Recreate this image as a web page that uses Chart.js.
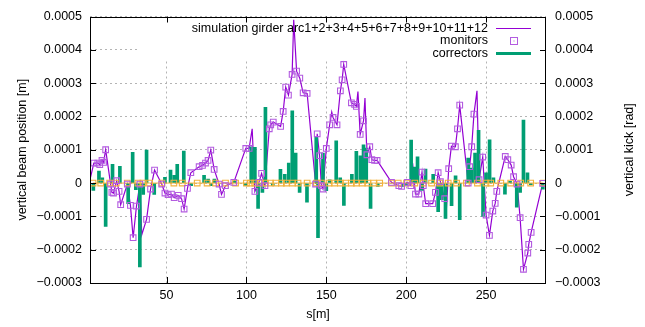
<!DOCTYPE html>
<html><head><meta charset="utf-8">
<script src="https://cdn.jsdelivr.net/npm/chart.js@4/dist/chart.umd.min.js"></script>
<style>html,body{margin:0;padding:0;background:#fff;overflow:hidden}#wrap{width:645px;height:327px}</style>
</head><body><div id="wrap"><canvas id="c" width="645" height="327"></canvas></div>
<script>
// ---- data (s in m, positions in m, kicks in rad) ----
const simS = [2.1,4.5,7.0,8.2,9.6,10.6,11.9,15.0,15.8,16.8,18.8,20.3,21.3,25.5,27.4,29.1,31.2,33.3,34.5,37.5,40.0,42.5,47.0,49.0,51.0,53.1,54.8,57.3,59.4,61.0,63.1,65.2,70.4,72.5,74.4,76.0,77.7,79.8,82.9,84.4,86.9,92.1,99.6,101.7,103.6,105.3,107.8,109.5,111.6,114.3,115.2,116.8,121.4,123.0,124.6,126.3,128.6,129.6,131.4,133.4,135.5,138.0,143.3,144.3,145.8,146.9,147.9,150.0,152.1,153.4,154.2,156.7,158.8,159.9,160.9,165.7,167.7,168.8,169.8,171.2,173.3,174.2,175.4,177.2,178.5,180.2,181.8,190.8,195.4,197.1,200.8,202.9,204.3,205.8,207.9,209.9,210.7,212.2,216.6,218.3,220.0,221.4,224.1,224.8,226.6,228.3,230.8,232.1,233.5,238.8,239.7,241.0,242.4,244.3,245.6,247.9,250.0,252.1,254.2,255.7,256.7,262.0,263.6,265.7,267.2,269.4,271.3,273.4,276.1,276.7,278.2,285.4];
const simY = [0.1e-4,0.6e-4,0.6e-4,0.55e-4,0.68e-4,0.62e-4,1.0e-4,-0.03e-4,-0.28e-4,-0.3e-4,0.07e-4,-0.25e-4,-0.65e-4,-0.03e-4,-0.67e-4,-1.64e-4,-0.69e-4,-0.03e-4,-1.55e-4,-1.09e-4,-0.18e-4,0.39e-4,-0.03e-4,-0.3e-4,-0.35e-4,-0.33e-4,-0.44e-4,-0.37e-4,-0.47e-4,-0.78e-4,-0.16e-4,0.31e-4,0.49e-4,0.53e-4,0.6e-4,0.68e-4,0.99e-4,0.41e-4,-0.03e-4,-0.34e-4,-0.08e-4,0.02e-4,1.04e-4,1.04e-4,1.63e-4,-0.25e-4,0.02e-4,0.29e-4,-0.08e-4,1.63e-4,1.75e-4,1.83e-4,1.7e-4,2.15e-4,2.88e-4,2.64e-4,3.26e-4,4.9e-4,3.36e-4,3.15e-4,2.71e-4,2.69e-4,-0.03e-4,1.48e-4,0.82e-4,-0.08e-4,-0.18e-4,1.04e-4,1.75e-4,2.13e-4,1.97e-4,1.75e-4,2.77e-4,3.1e-4,3.56e-4,2.41e-4,2.36e-4,2.3e-4,2.75e-4,1.46e-4,1.87e-4,2.55e-4,0.85e-4,1.09e-4,0.7e-4,0.68e-4,0.68e-4,0.02e-4,-0.08e-4,-0.1e-4,0.02e-4,-0.08e-4,0.45e-4,-0.33e-4,-0.33e-4,0.33e-4,-0.08e-4,-0.62e-4,-0.62e-4,-0.28e-4,0.31e-4,0.04e-4,-0.47e-4,-1.06e-4,0.43e-4,1.11e-4,1.09e-4,1.63e-4,2.34e-4,0.0,0.49e-4,1.09e-4,2.07e-4,2.77e-4,0.1e-4,0.78e-4,-0.96e-4,-1.57e-4,-0.84e-4,-0.61e-4,-0.25e-4,0.8e-4,0.7e-4,0.54e-4,0.19e-4,-0.03e-4,-1.04e-4,-2.59e-4,-2.1e-4,-1.84e-4,-1.48e-4,-0.01e-4];

const monS = [4.5,7.0,8.2,9.6,10.6,11.9,15.0,15.8,16.8,18.8,20.3,21.3,25.5,27.4,29.1,31.2,33.3,37.5,40.0,42.5,47.0,49.0,51.0,53.1,54.8,57.3,59.4,61.0,63.1,65.2,70.4,72.5,74.4,76.0,77.7,79.8,82.9,84.4,86.9,92.1,99.6,101.7,105.3,107.8,109.5,111.6,114.3,115.2,116.8,121.4,123.0,124.6,126.3,128.6,131.4,133.4,135.5,138.0,143.3,144.3,145.8,146.9,147.9,150.0,152.1,154.2,156.7,158.8,159.9,160.9,165.7,167.7,168.8,171.2,173.3,175.4,177.2,178.5,180.2,181.8,190.8,195.4,197.1,200.8,202.9,205.8,207.9,209.9,210.7,212.2,216.6,218.3,220.0,221.4,224.1,226.6,228.3,230.8,232.1,233.5,238.8,239.7,241.0,242.4,245.6,247.9,250.0,252.1,254.2,255.7,256.7,262.0,263.6,265.7,267.2,269.4,271.3,273.4,276.1,276.7,278.2,285.4];
const monY = [0.6e-4,0.6e-4,0.55e-4,0.68e-4,0.62e-4,1.0e-4,-0.03e-4,-0.28e-4,-0.3e-4,0.07e-4,-0.25e-4,-0.65e-4,-0.03e-4,-0.67e-4,-1.64e-4,-0.69e-4,-0.03e-4,-1.09e-4,-0.18e-4,0.39e-4,-0.03e-4,-0.3e-4,-0.35e-4,-0.33e-4,-0.44e-4,-0.37e-4,-0.47e-4,-0.78e-4,-0.16e-4,0.31e-4,0.49e-4,0.53e-4,0.6e-4,0.68e-4,0.99e-4,0.41e-4,-0.03e-4,-0.34e-4,-0.08e-4,0.02e-4,1.04e-4,1.04e-4,-0.25e-4,0.02e-4,0.29e-4,-0.08e-4,1.63e-4,1.75e-4,1.83e-4,1.7e-4,2.15e-4,2.88e-4,2.64e-4,3.26e-4,3.36e-4,3.15e-4,2.71e-4,2.69e-4,-0.03e-4,1.48e-4,0.82e-4,-0.08e-4,-0.18e-4,1.04e-4,1.75e-4,1.97e-4,1.75e-4,2.77e-4,3.1e-4,3.56e-4,2.41e-4,2.36e-4,2.3e-4,1.46e-4,1.87e-4,0.85e-4,1.09e-4,0.7e-4,0.68e-4,0.68e-4,0.02e-4,-0.08e-4,-0.1e-4,0.02e-4,-0.08e-4,-0.33e-4,-0.33e-4,0.33e-4,-0.08e-4,-0.62e-4,-0.62e-4,-0.28e-4,0.31e-4,0.04e-4,-0.47e-4,0.43e-4,1.11e-4,1.09e-4,1.63e-4,2.34e-4,0.0,0.49e-4,1.09e-4,2.07e-4,0.1e-4,0.78e-4,-0.96e-4,-1.57e-4,-0.84e-4,-0.61e-4,-0.25e-4,0.8e-4,0.7e-4,0.54e-4,0.19e-4,-0.03e-4,-1.04e-4,-2.59e-4,-2.1e-4,-1.84e-4,-1.48e-4,-0.01e-4];

const corS = [4.2,7.7,9.8,11.9,16.2,20.8,26.0,28.8,30.8,33.3,35.4,37.5,42.3,49.0,52.5,54.8,56.7,60.8,65.4,73.5,76.0,77.9,80.0,92.5,99.4,103.0,105.3,107.3,110.0,111.9,116.5,121.3,124.0,126.5,128.7,130.8,133.3,137.9,143.7,144.8,147.9,150.0,152.1,156.2,158.7,161.0,166.0,168.8,171.3,173.3,175.0,177.7,182.2,198.0,200.0,203.1,205.1,207.1,209.7,212.1,216.9,220.0,222.3,224.6,228.4,230.9,233.5,238.8,241.0,243.1,245.3,248.1,250.0,252.2,254.6,261.8,265.0,269.2,271.3,273.4,275.9,278.0,285.5];
const corK = [-0.22e-4,0.36e-4,0.16e-4,-1.3e-4,0.56e-4,0.5e-4,-0.62e-4,0.92e-4,-0.2e-4,-2.52e-4,-0.34e-4,0.99e-4,-0.34e-4,0.17e-4,0.39e-4,0.23e-4,0.56e-4,0.96e-4,-0.08e-4,0.23e-4,0.12e-4,-0.08e-4,0.12e-4,0.07e-4,-0.08e-4,1.09e-4,1.07e-4,-0.76e-4,-0.28e-4,2.27e-4,-0.08e-4,0.41e-4,0.26e-4,0.6e-4,2.17e-4,0.9e-4,-0.28e-4,-0.57e-4,1.39e-4,-1.64e-4,0.9e-4,-0.23e-4,0.1e-4,1.27e-4,0.16e-4,-0.67e-4,0.26e-4,0.95e-4,0.82e-4,1.15e-4,1.05e-4,-0.76e-4,-0.1e-4,-0.1e-4,-0.08e-4,1.29e-4,0.48e-4,0.79e-4,-0.22e-4,0.42e-4,0.26e-4,-0.86e-4,-0.5e-4,-1.06e-4,-0.68e-4,0.22e-4,-1.1e-4,0.75e-4,0.45e-4,0.9e-4,1.58e-4,-1.0e-4,0.31e-4,1.3e-4,0.16e-4,-0.33e-4,0.05e-4,-0.72e-4,-0.28e-4,1.89e-4,0.31e-4,-0.05e-4,-0.18e-4];

// reference (zero) orbit markers
const refS = [4.0,8.8,14.4,18.5,25.4,32.1,35.2,39.4,47.1,54.6,59.8,69.2,75.4,80.7,86.9,93.2,100.0,102.5,105.2,108.8,111.9,115.0,118.4,121.9,125.0,128.8,132.3,138.0,143.8,146.9,151.7,155.2,158.8,162.1,165.7,168.8,172.5,176.0,179.6,183.4,190.8,195.0,200.2,205.4,210.7,215.9,221.0,226.3,231.5,237.7,244.6,249.9,252.9,259.2,265.4,271.7,277.9,285.9];
const refY = [0,0,0,0,0,0,0,0,0,0,0,0,0,0,0,0,0,0,0,0,0,0,0,0,0,0,0,0,0,0,0,0,0,0,0,0,0,0,0,0,0,0,0,0,0,0,0,0,0,0,0,0,0,0,0,0,0,0];

const xRange = [2.1, 287.5];
const yRange = [-0.0003, 0.0005];
const xTicks = [50,100,150,200,250];
const xTickLabels = ['50','100','150','200','250'];
const yTicks = [-0.0003,-0.0002,-0.0001,0,0.0001,0.0002,0.0003,0.0004,0.0005];
const yTickLabels = ['\u22120.0003','\u22120.0002','\u22120.0001','0','0.0001','0.0002','0.0003','0.0004','0.0005'];
const legendLabels = ['simulation girder arc1+2+3+4+5+6+7+8+9+10+11+12','monitors','correctors'];
const xTitle = 's[m]', yTitle = 'vertical beam position [m]', y2Title = 'vertical kick [rad]';

// ---- styles ----
const FONT = '"Liberation Sans", Arial, Helvetica, sans-serif';
const FS = 12.5;
const PURPLE = '#9400d3', MON = '#b35ce0', GREEN = '#009e73', ORANGE = '#f3b23c';

const zip = (xs, ys) => xs.map((x, i) => ({x, y: ys[i]}));

const overlay = {
  id: 'overlay',
  beforeDatasetsDraw(chart) {
    const a = chart.chartArea, c = chart.ctx;
    c.save(); c.fillStyle = '#fff';
    c.fillRect(a.left + 47, a.top + 1, a.right - a.left - 48, 42);
    c.restore();
  },
  afterDraw(chart) {
    const a = chart.chartArea, c = chart.ctx;
    const xs = chart.scales.x, ys = chart.scales.y;
    c.save();
    c.strokeStyle = '#000'; c.lineWidth = 1;
    c.beginPath();
    yTicks.forEach(v => {
      const y = Math.round(ys.getPixelForValue(v)) + 0.5;
      c.moveTo(a.left, y); c.lineTo(a.left + 6, y);
      c.moveTo(a.right, y); c.lineTo(a.right - 6, y);
    });
    xTicks.forEach(v => {
      const x = Math.round(xs.getPixelForValue(v)) + 0.5;
      c.moveTo(x, a.bottom); c.lineTo(x, a.bottom - 6);
      c.moveTo(x, a.top); c.lineTo(x, a.top + 6);
    });
    c.stroke();
    c.strokeRect(Math.round(a.left) + 0.5, Math.round(a.top) + 0.5, Math.round(a.right - a.left) - 1, Math.round(a.bottom - a.top) - 1);
    // legend
    c.font = FS + 'px ' + FONT; c.fillStyle = '#000'; c.textAlign = 'right'; c.textBaseline = 'middle';
    const tx = a.right - 58, sx0 = a.right - 50, sx1 = a.right - 15;
    const rows = [a.top + 12, a.top + 24.5, a.top + 37];
    legendLabels.forEach((t, i) => c.fillText(t, tx, rows[i]));
    c.strokeStyle = PURPLE; c.lineWidth = 1.2;
    c.beginPath(); c.moveTo(sx0, rows[0]); c.lineTo(sx1, rows[0]); c.stroke();
    c.strokeStyle = MON; c.lineWidth = 1;
    const mx = Math.round((sx0 + sx1) / 2);
    c.strokeRect(mx - 3.5, Math.round(rows[1]) - 3.5, 7, 7);
    c.fillStyle = MON; c.fillRect(mx - 0.5, Math.round(rows[1]) - 0.5, 1, 1);
    c.strokeStyle = GREEN; c.lineWidth = 3;
    c.beginPath(); c.moveTo(sx0, rows[2]); c.lineTo(sx1, rows[2]); c.stroke();
    // right axis title (reads bottom-to-top)
    c.fillStyle = '#000'; c.textAlign = 'center';
    c.translate(630, (a.top + a.bottom) / 2); c.rotate(-Math.PI / 2);
    c.fillText(y2Title, 0, 0);
    c.restore();
  }
};

const tickFont = {family: FONT, size: FS};
new Chart(document.getElementById('c'), {
  type: 'line',
  data: {
    datasets: [
      {type: 'line', label: legendLabels[0], data: zip(simS, simY), borderColor: PURPLE, borderWidth: 1.2, pointRadius: 0, tension: 0, fill: false, order: 4, yAxisID: 'y'},
      {type: 'line', label: legendLabels[1], data: zip(monS, monY), showLine: false, pointStyle: 'rect', pointRadius: 4, borderColor: MON, backgroundColor: 'rgba(0,0,0,0)', pointBorderWidth: 1.1, order: 1, yAxisID: 'y'},
      {type: 'bar', label: legendLabels[2], data: zip(corS, corK), backgroundColor: GREEN, borderWidth: 0, barThickness: 3, order: 3, yAxisID: 'y2'},
      {type: 'line', label: 'reference', data: zip(refS, refY), borderColor: ORANGE, borderWidth: 1, pointStyle: 'rect', pointRadius: 4, pointBorderColor: ORANGE, pointBackgroundColor: 'rgba(0,0,0,0)', pointBorderWidth: 1.1, order: 2, yAxisID: 'y'}
    ]
  },
  options: {
    responsive: false, animation: false, events: [],
    layout: {padding: {top: 10, left: 0, right: 0, bottom: 0}},
    plugins: {legend: {display: false}, tooltip: {enabled: false}},
    scales: {
      x: {
        type: 'linear', position: 'bottom', min: xRange[0], max: xRange[1], offset: false,
        afterFit: s => { s.height = 44; },
        afterBuildTicks: s => { s.ticks = xTicks.map(v => ({value: v})); },
        ticks: {font: tickFont, color: '#000', padding: 5, maxRotation: 0, autoSkip: false, callback: (v, i) => xTickLabels[i]},
        grid: {color: '#b4b4b4', lineWidth: 1, drawTicks: false, offset: false},
        border: {display: false, dash: [2, 3]},
        title: {display: true, text: xTitle, font: tickFont, color: '#000', padding: {top: 0, bottom: 5}}
      },
      y: {
        type: 'linear', position: 'left', min: yRange[0], max: yRange[1],
        afterFit: s => { s.width = 90; },
        afterBuildTicks: s => { s.ticks = yTicks.map(v => ({value: v})); },
        ticks: {font: tickFont, color: '#000', padding: 8, autoSkip: false, callback: (v, i) => yTickLabels[i]},
        grid: {color: '#b4b4b4', lineWidth: 1, drawTicks: false},
        border: {display: false, dash: [2, 3]},
        title: {display: true, text: yTitle, font: tickFont, color: '#000', padding: {top: 15, bottom: 0}}
      },
      y2: {
        type: 'linear', position: 'right', min: yRange[0], max: yRange[1],
        afterFit: s => { s.width = 99; },
        afterBuildTicks: s => { s.ticks = yTicks.map(v => ({value: v})); },
        ticks: {font: tickFont, color: '#000', padding: 9, autoSkip: false, callback: (v, i) => yTickLabels[i]},
        grid: {drawOnChartArea: false, drawTicks: false},
        border: {display: false}
      }
    }
  },
  plugins: [overlay]
});
</script></body></html>
